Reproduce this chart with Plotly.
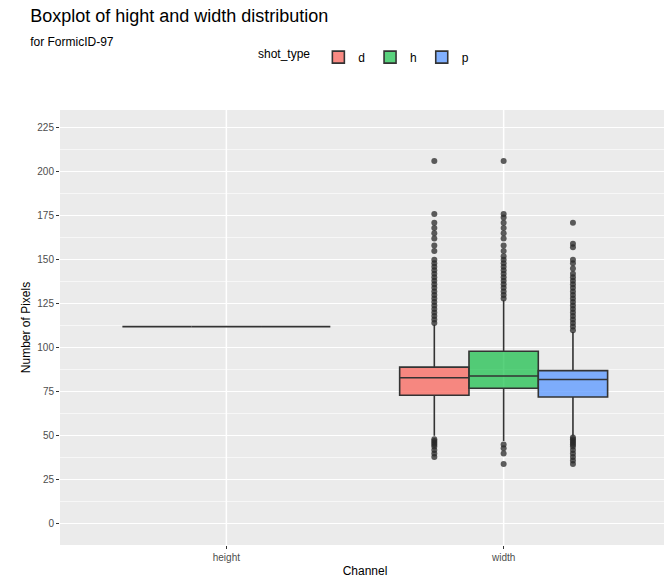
import plotly.graph_objects as go

groups = ["d", "h", "p"]
colors = {"d": "rgba(248,118,109,0.85)", "h": "rgba(0,186,56,0.65)", "p": "rgba(97,156,255,0.8)"}
channels = ["height", "width"]

# precomputed box stats per channel and shot_type
height_stats = {g: dict(q1=112, median=112, q3=112, lo=112, hi=112) for g in groups}
width_stats = {
    "d": dict(q1=73, median=83, q3=89, lo=50, hi=113),
    "h": dict(q1=77, median=84, q3=98, lo=47, hi=127),
    "p": dict(q1=72, median=82, q3=87, lo=50, hi=109),
}
width_outliers = {
    "d": [38, 40, 42, 44, 45, 46, 47, 48, 114, 116, 118, 120, 122, 124, 126, 128, 130, 132, 134,
          136, 138, 140, 142, 144, 146, 148, 150, 155, 158, 162, 165, 168, 171, 176, 206],
    "h": [34, 40, 43, 45, 128, 130, 132, 134, 136, 138, 140, 142, 144, 146, 148, 150, 152, 155,
          158, 162, 165, 168, 171, 174, 176, 206],
    "p": [34, 36, 38, 40, 42, 44, 45, 46, 47, 48, 49, 110, 112, 114, 116, 118, 120, 122, 124, 126,
          128, 130, 132, 134, 136, 138, 140, 142, 145, 148, 150, 157, 159, 171],
}

offsets = {"d": -0.25, "h": 0.0, "p": 0.25}
fig = go.Figure()
for g in groups:
    xs, q1, med, q3, lo, hi = [], [], [], [], [], []
    for ci, stats in enumerate([height_stats, width_stats]):
        s = stats[g]
        xs.append(ci + 1 + offsets[g])
        q1.append(s["q1"]); med.append(s["median"]); q3.append(s["q3"])
        lo.append(s["lo"]); hi.append(s["hi"])
    fig.add_trace(go.Box(
        x=xs, q1=q1, median=med, q3=q3, lowerfence=lo, upperfence=hi,
        width=0.25, name=g, fillcolor=colors[g],
        line=dict(color="#333333", width=1.6), whiskerwidth=0,
    ))
    fig.add_trace(go.Scatter(
        x=[2 + offsets[g]] * len(width_outliers[g]), y=width_outliers[g], mode="markers",
        marker=dict(color="rgba(40,40,40,0.75)", size=6), showlegend=False, hoverinfo="y",
    ))

fig.update_layout(
    width=672, height=576,
    paper_bgcolor="white", plot_bgcolor="#EBEBEB",
    font=dict(family="Liberation Sans, Arial", color="#333333"),
    title=dict(
        text="Boxplot of hight and width distribution<br><span style='font-size:12px'>for FormicID-97</span>",
        x=0.033, y=0.975, xanchor="left", yanchor="top", font=dict(size=18, color="black"),
    ),
    margin=dict(l=52, r=10, t=102, b=39),
    legend=dict(orientation="h", x=0.5, xanchor="center", y=1.155, yanchor="top",
                itemwidth=30, tracegroupgap=0,
                title=dict(text="shot_type", font=dict(size=12, color="black")),
                font=dict(size=12, color="black")),
    xaxis=dict(range=[0.4, 2.6], tickvals=[1, 2], ticktext=channels, showgrid=False,
               zeroline=False,
               title=dict(text="Channel", font=dict(size=12, color="black"), standoff=4),
               tickfont=dict(size=10, color="#4D4D4D"), ticks="outside", ticklen=3,
               tickcolor="#333333"),
    yaxis=dict(range=[-12, 235], tickvals=list(range(0, 226, 25)), gridcolor="white",
               zeroline=False,
               title=dict(text="Number of Pixels", font=dict(size=12, color="black"), standoff=4),
               tickfont=dict(size=10, color="#4D4D4D"), ticks="outside", ticklen=3,
               tickcolor="#333333",
               minor=dict(tickvals=[12.5 + 25 * i for i in range(9)], showgrid=True,
                          gridcolor="rgba(255,255,255,0.6)", gridwidth=0.5)),
)
# vertical major grid lines at categories
for xv in [1, 2]:
    fig.add_vline(x=xv, line=dict(color="white", width=1.5), layer="below")

fig.write_html("out.html")
